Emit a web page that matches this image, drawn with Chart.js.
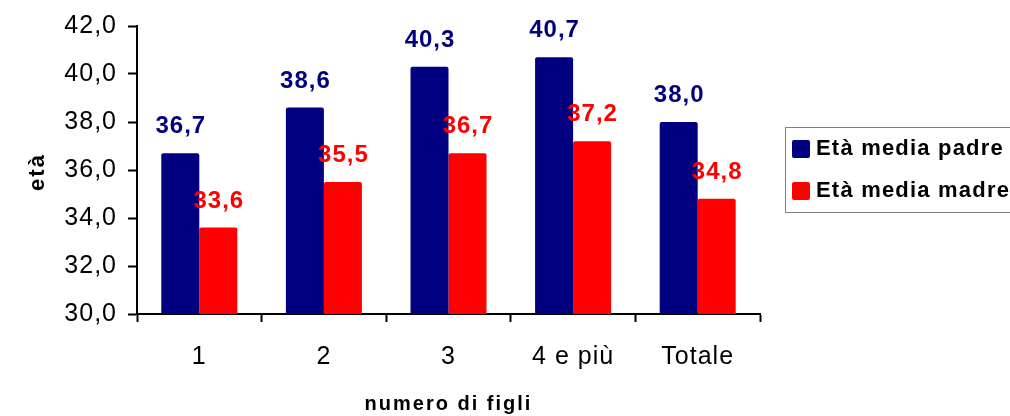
<!DOCTYPE html>
<html>
<head>
<meta charset="utf-8">
<script src="https://cdn.jsdelivr.net/npm/chart.js@4/dist/chart.umd.min.js"></script>
<style>
html,body{margin:0;padding:0;background:#fff;overflow:hidden;}
canvas{display:block;}
</style>
</head>
<body>
<canvas id="c" width="1010" height="416"></canvas>
<script>
const categories = ['1', '2', '3', '4 e più', 'Totale'];
const padreValues = [36.7, 38.6, 40.3, 40.7, 38.0];
const madreValues = [33.6, 35.5, 36.7, 37.2, 34.8];
const seriesNames = ['Età media padre', 'Età media madre'];
const yTitle = 'età';
const xTitle = 'numero di figli';
const yMin = 30, yMax = 42, yStep = 2;

const FONT = '"Liberation Sans", Arial, Helvetica, sans-serif';
const fmt = v => v.toFixed(1).replace('.', ',');

const textSpacing = {
  id: 'textSpacing',
  beforeDraw(chart) { chart.ctx.letterSpacing = '1px'; }
};

const valueLabels = {
  id: 'valueLabels',
  afterDatasetsDraw(chart) {
    const ctx = chart.ctx;
    ctx.save();
    ctx.letterSpacing = '1px';
    ctx.font = 'bold 24px ' + FONT;
    ctx.textAlign = 'center';
    ctx.textBaseline = 'alphabetic';
    chart.data.datasets.forEach((ds, i) => {
      const meta = chart.getDatasetMeta(i);
      ctx.fillStyle = ds.labelColor;
      meta.data.forEach((bar, j) => {
        ctx.fillText(fmt(ds.data[j]), bar.x + 0.5, bar.y - 20);
      });
    });
    ctx.restore();
  }
};

const extras = {
  id: 'extras',
  afterDraw(chart) {
    const ctx = chart.ctx;
    const ca = chart.chartArea;
    ctx.save();
    ctx.fillStyle = '#000';
    ctx.font = 'bold 22px ' + FONT;
    ctx.letterSpacing = '2px';
    ctx.textAlign = 'center';
    ctx.textBaseline = 'alphabetic';
    ctx.save();
    ctx.translate(44, (ca.top + ca.bottom) / 2 + 2);
    ctx.rotate(-Math.PI / 2);
    ctx.fillText(yTitle, 0, 0);
    ctx.restore();
    ctx.font = 'bold 20px ' + FONT;
    ctx.letterSpacing = '2px';
    ctx.fillText(xTitle, (ca.left + ca.right) / 2, 410);
    const lx = 785, ly = 127;
    ctx.strokeStyle = '#7f7f7f';
    ctx.lineWidth = 1;
    ctx.strokeRect(lx + 0.5, ly + 0.5, 300, 85);
    ctx.font = 'bold 22px ' + FONT;
    ctx.letterSpacing = '1.2px';
    ctx.textAlign = 'left';
    chart.data.datasets.forEach((ds, i) => {
      const sy = ly + 13 + i * 42;
      ctx.fillStyle = ds.backgroundColor;
      ctx.beginPath();
      ctx.roundRect(lx + 7, sy, 18, 18, 2);
      ctx.fill();
      ctx.fillStyle = '#000';
      ctx.fillText(ds.label, lx + 31, sy + 15);
    });
    ctx.restore();
  }
};

new Chart(document.getElementById('c'), {
  type: 'bar',
  data: {
    labels: categories,
    datasets: [
      { label: seriesNames[0], data: padreValues, backgroundColor: '#000080', labelColor: '#000080',
        borderRadius: 2, borderSkipped: 'bottom', categoryPercentage: 0.61, barPercentage: 1.0 },
      { label: seriesNames[1], data: madreValues, backgroundColor: '#FF0000', labelColor: '#FF0000',
        borderRadius: 2, borderSkipped: 'bottom', categoryPercentage: 0.61, barPercentage: 1.0 }
    ]
  },
  options: {
    responsive: false,
    animation: false,
    devicePixelRatio: 1,
    layout: { padding: { left: 0, top: 23, right: 250, bottom: 0 } },
    plugins: { legend: { display: false }, tooltip: { enabled: false } },
    scales: {
      y: {
        min: yMin, max: yMax,
        afterFit(s) { s.width = 137; },
        ticks: {
          stepSize: yStep,
          color: '#000',
          font: { family: FONT, size: 25 },
          padding: 11,
          callback: v => fmt(v)
        },
        grid: { display: true, drawOnChartArea: false, drawTicks: true, tickLength: 9, tickColor: '#000', tickWidth: 2, color: '#000' },
        border: { display: true, color: '#000', width: 2 }
      },
      x: {
        afterFit(s) { s.height = 102; },
        ticks: { color: '#000', font: { family: FONT, size: 25 }, padding: 20, maxRotation: 0 },
        grid: { display: true, offset: true, drawOnChartArea: false, drawTicks: true, tickLength: 8, tickColor: '#000', tickWidth: 2, color: '#000' },
        border: { display: true, color: '#000', width: 2 }
      }
    }
  },
  plugins: [textSpacing, valueLabels, extras]
});
</script>
</body>
</html>
